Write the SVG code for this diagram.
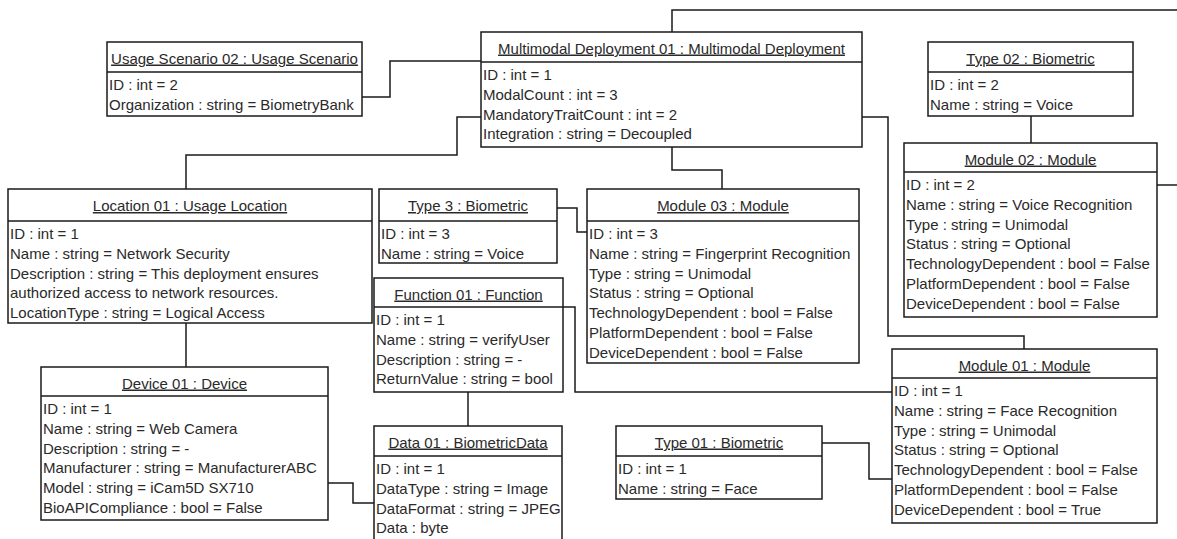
<svg xmlns="http://www.w3.org/2000/svg" width="1177" height="539" viewBox="0 0 1177 539">
<style>
.box{fill:#fff;stroke:#1a1a1a;stroke-width:1.5}
.sep{stroke:#1a1a1a;stroke-width:1.5}
.con{fill:none;stroke:#1a1a1a;stroke-width:1.5}
text{font-family:"Liberation Sans",Arial,sans-serif;font-size:15px;fill:#2a2a2a}
.hd{text-anchor:middle;text-decoration:underline}
</style>
<rect width="1177" height="539" fill="#fff"/>
<g id="connectors">
<polyline class="con" points="362,97 390,97 390,61 481,61"/>
<polyline class="con" points="481,117 457,117 457,155 186,155 186,189"/>
<polyline class="con" points="672,32 672,10 1177,10"/>
<polyline class="con" points="672,147 672,170 722,170 722,189"/>
<polyline class="con" points="862,117 888,117 888,336 1024,336 1024,349"/>
<polyline class="con" points="1031,116 1031,143"/>
<polyline class="con" points="1157,185 1177,185"/>
<polyline class="con" points="186,323 186,367"/>
<polyline class="con" points="557,208 577,208 577,232 587,232"/>
<polyline class="con" points="563,307 575,307 575,392 892,392"/>
<polyline class="con" points="468,392 468,426"/>
<polyline class="con" points="328,483 353,483 353,503 374,503"/>
<polyline class="con" points="822,443 869,443 869,479 892,479"/>
</g>
<g id="usage-scenario-02">
<rect class="box" x="107" y="42" width="255" height="74"/>
<line class="sep" x1="107" y1="72" x2="362" y2="72"/>
<text class="hd" x="234.5" y="63.5">Usage Scenario 02 : Usage Scenario</text>
<text x="109" y="90">ID : int = 2</text>
<text x="109" y="109.8">Organization : string = BiometryBank</text>
</g>
<g id="multimodal-deployment-01">
<rect class="box" x="481" y="32" width="381" height="115"/>
<line class="sep" x1="481" y1="62" x2="862" y2="62"/>
<text class="hd" x="671.5" y="53.5">Multimodal Deployment 01 : Multimodal Deployment</text>
<text x="483" y="80">ID : int = 1</text>
<text x="483" y="99.8">ModalCount : int = 3</text>
<text x="483" y="119.6">MandatoryTraitCount : int = 2</text>
<text x="483" y="139.4">Integration : string = Decoupled</text>
</g>
<g id="type-02">
<rect class="box" x="928" y="42" width="205" height="74"/>
<line class="sep" x1="928" y1="72" x2="1133" y2="72"/>
<text class="hd" x="1030.5" y="63.5">Type 02 : Biometric</text>
<text x="930" y="90">ID : int = 2</text>
<text x="930" y="109.8">Name : string = Voice</text>
</g>
<g id="module-02">
<rect class="box" x="904" y="143" width="253" height="174"/>
<line class="sep" x1="904" y1="172" x2="1157" y2="172"/>
<text class="hd" x="1030.5" y="164.5">Module 02 : Module</text>
<text x="906" y="190">ID : int = 2</text>
<text x="906" y="209.8">Name : string = Voice Recognition</text>
<text x="906" y="229.6">Type : string = Unimodal</text>
<text x="906" y="249.4">Status : string = Optional</text>
<text x="906" y="269.2">TechnologyDependent : bool = False</text>
<text x="906" y="289">PlatformDependent : bool = False</text>
<text x="906" y="308.8">DeviceDependent : bool = False</text>
</g>
<g id="location-01">
<rect class="box" x="8" y="189" width="364" height="134"/>
<line class="sep" x1="8" y1="221" x2="372" y2="221"/>
<text class="hd" x="190" y="211">Location 01 : Usage Location</text>
<text x="10" y="239">ID : int = 1</text>
<text x="10" y="258.8">Name : string = Network Security</text>
<text x="10" y="278.6">Description : string = This deployment ensures</text>
<text x="10" y="298.4">authorized access to network resources.</text>
<text x="10" y="318.2">LocationType : string = Logical Access</text>
</g>
<g id="type-3">
<rect class="box" x="379" y="189" width="178" height="74"/>
<line class="sep" x1="379" y1="221" x2="557" y2="221"/>
<text class="hd" x="468" y="211">Type 3 : Biometric</text>
<text x="381" y="239">ID : int = 3</text>
<text x="381" y="258.8">Name : string = Voice</text>
</g>
<g id="module-03">
<rect class="box" x="587" y="189" width="272" height="174"/>
<line class="sep" x1="587" y1="221" x2="859" y2="221"/>
<text class="hd" x="723" y="211">Module 03 : Module</text>
<text x="589" y="239">ID : int = 3</text>
<text x="589" y="258.8">Name : string = Fingerprint Recognition</text>
<text x="589" y="278.6">Type : string = Unimodal</text>
<text x="589" y="298.4">Status : string = Optional</text>
<text x="589" y="318.2">TechnologyDependent : bool = False</text>
<text x="589" y="338">PlatformDependent : bool = False</text>
<text x="589" y="357.8">DeviceDependent : bool = False</text>
</g>
<g id="function-01">
<rect class="box" x="374" y="278" width="189" height="114"/>
<line class="sep" x1="374" y1="307" x2="563" y2="307"/>
<text class="hd" x="468.5" y="299.5">Function 01 : Function</text>
<text x="376" y="325">ID : int = 1</text>
<text x="376" y="344.8">Name : string = verifyUser</text>
<text x="376" y="364.6">Description : string = -</text>
<text x="376" y="384.4">ReturnValue : string = bool</text>
</g>
<g id="device-01">
<rect class="box" x="41" y="367" width="287" height="153"/>
<line class="sep" x1="41" y1="396" x2="328" y2="396"/>
<text class="hd" x="184.5" y="388.5">Device 01 : Device</text>
<text x="43" y="414">ID : int = 1</text>
<text x="43" y="433.8">Name : string = Web Camera</text>
<text x="43" y="453.6">Description : string = -</text>
<text x="43" y="473.4">Manufacturer : string = ManufacturerABC</text>
<text x="43" y="493.2">Model : string = iCam5D SX710</text>
<text x="43" y="513">BioAPICompliance : bool = False</text>
</g>
<g id="data-01">
<rect class="box" x="374" y="426" width="188" height="116"/>
<line class="sep" x1="374" y1="456" x2="562" y2="456"/>
<text class="hd" x="468" y="447.5">Data 01 : BiometricData</text>
<text x="376" y="474">ID : int = 1</text>
<text x="376" y="493.8">DataType : string = Image</text>
<text x="376" y="513.6">DataFormat : string = JPEG</text>
<text x="376" y="533.4">Data : byte</text>
</g>
<g id="type-01">
<rect class="box" x="616" y="426" width="206" height="73"/>
<line class="sep" x1="616" y1="456" x2="822" y2="456"/>
<text class="hd" x="719" y="447.5">Type 01 : Biometric</text>
<text x="618" y="474">ID : int = 1</text>
<text x="618" y="493.8">Name : string = Face</text>
</g>
<g id="module-01">
<rect class="box" x="892" y="349" width="265" height="174"/>
<line class="sep" x1="892" y1="378" x2="1157" y2="378"/>
<text class="hd" x="1024.5" y="370.5">Module 01 : Module</text>
<text x="894" y="396">ID : int = 1</text>
<text x="894" y="415.8">Name : string = Face Recognition</text>
<text x="894" y="435.6">Type : string = Unimodal</text>
<text x="894" y="455.4">Status : string = Optional</text>
<text x="894" y="475.2">TechnologyDependent : bool = False</text>
<text x="894" y="495">PlatformDependent : bool = False</text>
<text x="894" y="514.8">DeviceDependent : bool = True</text>
</g>
</svg>
